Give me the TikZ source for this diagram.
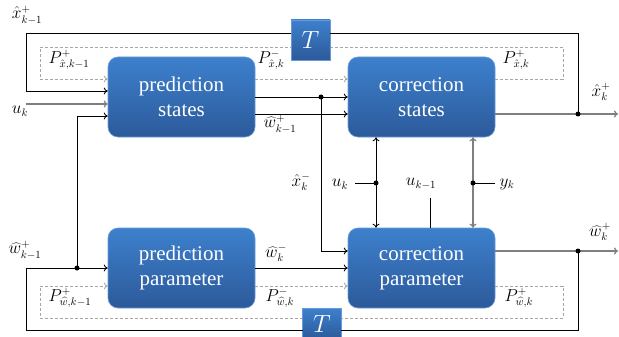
\documentclass[tikz,border=0pt]{standalone}
\usepackage{fontspec}
\setmainfont{Liberation Serif}
\usetikzlibrary{arrows.meta}
\definecolor{boxtop}{HTML}{3D80CD}
\definecolor{boxbot}{HTML}{2C5A9A}
\definecolor{boxedge}{HTML}{6A9BD8}
\definecolor{dgray}{HTML}{A6A6A6}
\definecolor{lgray}{HTML}{7F7F7F}
\tikzset{
  blk/.style={rounded corners=10pt, top color=boxtop, bottom color=boxbot, draw=boxedge, line width=0.6pt,
    text=white, font=\fontsize{21}{25}\selectfont, align=center, minimum width=147pt, minimum height=80pt, inner sep=0pt},
  tbox/.style={top color=boxtop, bottom color=boxbot, draw=boxedge, line width=0.6pt, text=white,
    minimum width=39pt, minimum height=40pt, inner sep=0pt, font=\fontsize{24}{24}\selectfont},
  sig/.style={line width=0.9pt, black},
  gsig/.style={line width=1.3pt, lgray},
  pline/.style={line width=0.8pt, dgray, dash pattern=on 3pt off 2pt},
  arr/.style={-{To[length=4pt,width=7pt]}},
  dot/.style={circle, fill=black, inner sep=0pt, minimum size=5pt},
  lab/.style={font=\fontsize{16}{18}\selectfont, inner sep=0pt},
}
\begin{document}
\begin{tikzpicture}[x=1pt,y=-1pt]
\useasboundingbox (0,0) rectangle (619,337);
% blocks
\node[blk] (ps) at (181.5,97) {prediction\\states};
\node[blk] (cs) at (421.5,97) {correction\\states};
\node[blk] (pp) at (181.5,268) {prediction\\parameter};
\node[blk] (cp) at (421.5,268) {correction\\parameter};
% coordinates
\coordinate (dpl) at (40,47);
\coordinate (dpr) at (563,47);
\coordinate (dpri) at (563,79);
\coordinate (dpli) at (40,79);
\coordinate (dwl) at (40,318);
\coordinate (dwr) at (563,318);
\coordinate (dwri) at (563,286);
\coordinate (dwli) at (40,286);
% dashed covariance paths
\draw[pline] (cs.east |- dpri) -- (dpri) -- (dpr) -- (dpl) -- (dpli);
\draw[pline,arr] (dpli) -- (ps.west |- dpli);
\draw[pline,arr] (ps.east |- dpli) -- (cs.west |- dpli);
\draw[pline] (cp.east |- dwri) -- (dwri) -- (dwr) -- (dwl) -- (dwli);
\draw[pline,arr] (dwli) -- (pp.west |- dwli);
\draw[pline,arr] (pp.east |- dwli) -- (cp.west |- dwli);
% T boxes
\node[tbox] (Tt) at (310.5,40) {$T$};
\node[tbox, minimum height=31pt] (Tb) at (322,323.5) {$T$};
% coordinates for signals
\coordinate (dx) at (578,114);
\coordinate (xend) at (618,114);
\coordinate (dw) at (578,251);
\coordinate (wend) at (618,251);
\coordinate (ttl) at (291,33);
\coordinate (ttr) at (330,33);
\coordinate (tbl) at (303,330);
\coordinate (tbr) at (341,330);
\coordinate (fl) at (26,91);
\coordinate (ukl) at (26,104);
\coordinate (wl) at (26,268);
\coordinate (dwk) at (77,268);
\coordinate (wup) at (77,116);
\coordinate (dpx) at (321,97);
\coordinate (pxdown) at (321,251);
\coordinate (du) at (376,183);
\coordinate (dy) at (473,183);
\coordinate (ukm) at (355,183);
\coordinate (ykm) at (495,183);
\coordinate (uk1) at (430,198);
% state feedback
\draw[gsig] (cs.east |- dx) -- (dx);
\draw[gsig,arr] (dx) -- (xend);
\draw[sig] (dx) |- (ttr);
\draw[sig,arr] (ttl) -| (fl) -- (ps.west |- fl);
\draw[gsig,arr] (ukl) -- (ps.west |- ukl);
\draw[sig,arr] (dwk) -- (wup) -- (ps.west |- wup);
% parameter feedback
\draw[gsig] (cp.east |- dw) -- (dw);
\draw[gsig,arr] (dw) -- (wend);
\draw[sig] (dw) |- (tbr);
\draw[sig] (tbl) -| (wl);
\draw[sig,arr] (wl) -- (pp.west |- wl);
% prediction outputs
\draw[sig,arr] (ps.east |- dpx) -- (cs.west |- dpx);
\draw[sig,arr] (ps.east |- 0,114) -- (cs.west |- 0,114);
\draw[sig,arr] (dpx) -- (pxdown) -- (cp.west |- pxdown);
\draw[sig,arr] (pp.east |- 0,268) -- (cp.west |- 0,268);
% vertical signals
\draw[sig,arr] (du) -- (cs.south -| du);
\draw[sig,arr] (du) -- (cp.north -| du);
\draw[sig] (ukm) -- (du);
\draw[gsig,arr] (dy) -- (cs.south -| dy);
\draw[gsig,arr] (dy) -- (cp.north -| dy);
\draw[sig] (dy) -- (ykm);
\draw[sig] (uk1) -- (cp.north -| uk1);
% dots
\node[dot] (n1) at (dx) {};
\node[dot] (n2) at (dw) {};
\node[dot] (n3) at (dwk) {};
\node[dot] (n4) at (dpx) {};
\node[dot] (n5) at (du) {};
\node[dot] (n6) at (dy) {};
% labels
\node[lab] (L1) at (27,15) {$\hat{x}^+_{k-1}$};
\node[lab] (L2) at (20,111) {$u_k$};
\node[lab] (L3) at (69,60) {$P^+_{\hat{x},k-1}$};
\node[lab] (L4) at (271,60) {$P^-_{\hat{x},k}$};
\node[lab] (L5) at (280,124) {$\widehat{w}^+_{k-1}$};
\node[lab] (L6) at (516,60) {$P^+_{\hat{x},k}$};
\node[lab] (L7) at (601,92) {$\hat{x}^+_k$};
\node[lab] (L8) at (301,182) {$\hat{x}^-_k$};
\node[lab] (L9) at (340,184) {$u_k$};
\node[lab] (L10) at (421,184) {$u_{k-1}$};
\node[lab] (L11) at (507,184) {$y_k$};
\node[lab] (L12) at (600,232) {$\widehat{w}^+_k$};
\node[lab] (L13) at (25,250) {$\widehat{w}^+_{k-1}$};
\node[lab] (L14) at (70,298) {$P^+_{\widehat{w},k-1}$};
\node[lab] (L15) at (276,253) {$\widehat{w}^-_k$};
\node[lab] (L16) at (280,298) {$P^-_{\widehat{w},k}$};
\node[lab] (L17) at (519,298) {$P^+_{\widehat{w},k}$};
\end{tikzpicture}
\end{document}
